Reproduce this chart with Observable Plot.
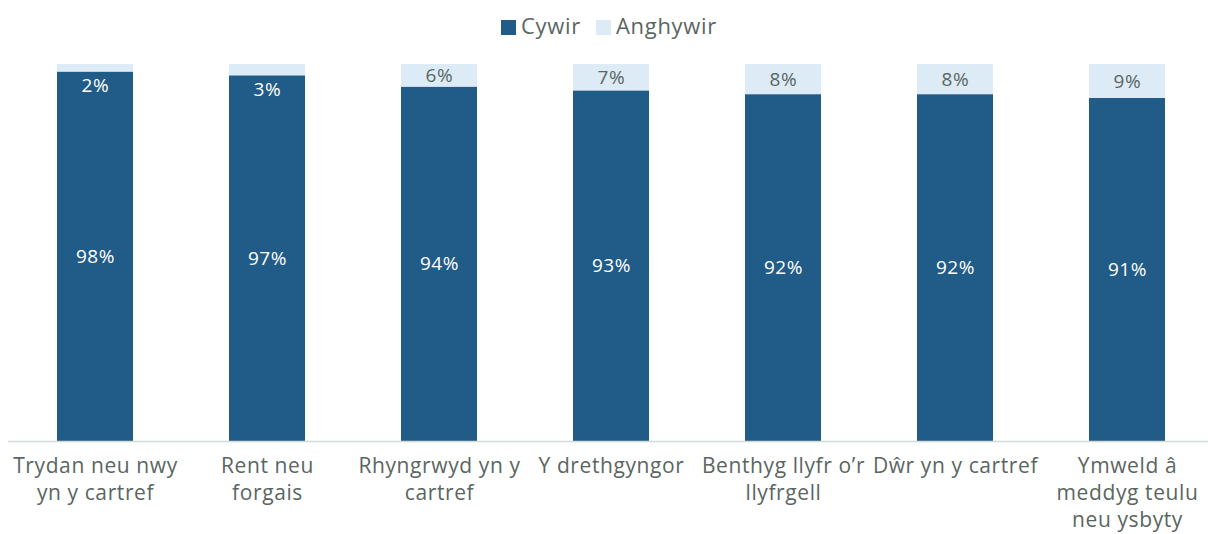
<!DOCTYPE html>
<html><head><meta charset="utf-8">
<script src="https://cdn.jsdelivr.net/npm/d3@7"></script>
<script src="https://cdn.jsdelivr.net/npm/@observablehq/plot@0.6"></script>
<style>
body{margin:0;background:#fff;font-family:"Open Sans",sans-serif;}
#legend{height:50px;display:flex;justify-content:center;align-items:center;gap:15px;font-size:22px;letter-spacing:0.7px;color:#5a6661;padding-left:10px;box-sizing:border-box;}
#legend span.sw{display:inline-block;width:15px;height:15px;margin-right:5px;vertical-align:-1px;}
#chart svg text{letter-spacing:0.6px;}
</style></head><body>
<div id="legend"></div>
<div id="chart"></div>
<script>
const categories = ["Trydan neu nwy\nyn y cartref","Rent neu\nforgais","Rhyngrwyd yn y\ncartref","Y drethgyngor","Benthyg llyfr o’r\nllyfrgell","Dŵr yn y cartref","Ymweld â\nmeddyg teulu\nneu ysbyty"];
const series = ["Cywir","Anghywir"];
const cywir = [98,97,94,93,92,92,91];
const anghywir = [2,3,6,7,8,8,9];
const colors = ["#215b87","#ddebf7"];

const data = [];
categories.forEach((c,i)=>{
  data.push({cat:c, series:"Cywir", value:cywir[i], y1:0, y2:cywir[i]});
  data.push({cat:c, series:"Anghywir", value:anghywir[i], y1:cywir[i], y2:cywir[i]+anghywir[i]});
});

const leg = document.getElementById("legend");
series.forEach((s,i)=>{
  const d=document.createElement("div");
  d.innerHTML=`<span class="sw" style="background:${colors[i]}"></span>${s}`;
  leg.appendChild(d);
});

const small = d => d.series==="Anghywir" && d.value < 5;
const chart = Plot.plot({
  width:1208, height:484,
  marginLeft:8, marginRight:0, marginTop:14, marginBottom:93,
  style:{fontFamily:"'Open Sans', sans-serif", background:"#fff"},
  x:{domain:categories, range:[55,1167], paddingInner:0.56, paddingOuter:0, label:null},
  y:{domain:[0,100], axis:null},
  color:{domain:series, range:colors},
  marks:[
    Plot.rectY(data,{x:"cat", y1:"y1", y2:"y2", fill:"series"}),
    Plot.ruleY([0],{stroke:"#d3dbd8", strokeWidth:1.5}),
    Plot.text(data.filter(d=>!small(d)),{x:"cat", y:d=>(d.y1+d.y2)/2, text:d=>d.value+"%", fill:d=>d.series==="Cywir"?"#ffffff":"#5a6661", fontSize:19}),
    Plot.text(data.filter(small),{x:"cat", y:"y1", text:d=>d.value+"%", fill:"#ffffff", fontSize:19, dy:14}),
    Plot.axisX({tickSize:0, tickPadding:12, fontSize:21, lineHeight:1.3, color:"#5a6661", label:null, textAnchor:"middle"})
  ]
});
document.getElementById("chart").appendChild(chart);
</script>
</body></html>
